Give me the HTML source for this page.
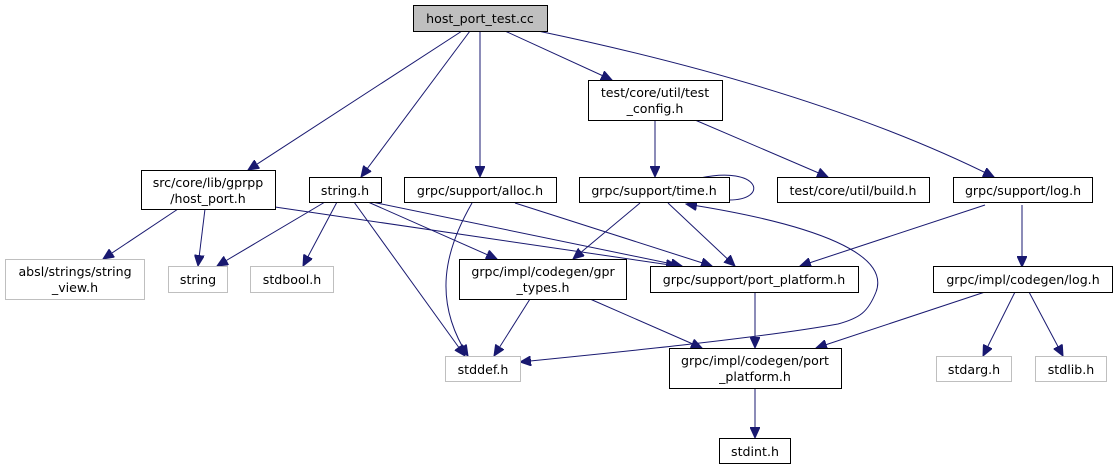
<!DOCTYPE html>
<html><head><meta charset="utf-8"><style>
html,body{margin:0;padding:0;background:#fff;}
svg{display:block;}
text{font-family:"DejaVu Sans","Liberation Sans",sans-serif;font-size:12.6px;fill:#000;text-anchor:middle;}
.b{fill:#fff;stroke:#000;stroke-width:1;}
.g{fill:#fff;stroke:#bfbfbf;stroke-width:1;}
.e{fill:none;stroke:#191970;stroke-width:1;marker-end:url(#a);}
.n{fill:none;stroke:#191970;stroke-width:1;}
</style></head><body>
<svg width="1117" height="469" viewBox="0 0 1117 469" xmlns="http://www.w3.org/2000/svg">
<defs><marker id="a" markerUnits="userSpaceOnUse" markerWidth="12" markerHeight="10" refX="11" refY="5" orient="auto"><path d="M0,0 L11,5 L0,10 Z" fill="#191970" stroke="#191970"/></marker></defs>

<!-- edges -->
<path class="e" d="M462,31 L248,170"/>
<path class="e" d="M470,31 L361,177"/>
<path class="e" d="M480,31 L480,177"/>
<path class="e" d="M505,31 L612,80"/>
<path class="e" d="M538,31 Q820,90 994,177"/>
<path class="e" d="M655,120 L655,177"/>
<path class="e" d="M695,120 L828,177"/>
<path class="e" d="M178,209 L103,259"/>
<path class="e" d="M205,209 L198,266"/>
<path class="e" d="M275,207 L677,266"/>
<path class="e" d="M325,202 L217,266"/>
<path class="e" d="M337,202 L303,266"/>
<path class="e" d="M354,202 L465,356"/>
<path class="e" d="M368,202 L497,259"/>
<path class="e" d="M372,202 L682,266"/>
<path class="e" d="M472,203 C445,250 432,300 468,356"/>
<path class="e" d="M515,203 L712,266"/>
<path class="e" d="M640,203 L573,259"/>
<path class="e" d="M668,203 L735,266"/>
<path class="n" d="M700,178 C760,165 770,200 729,200"/>
<path class="e" d="M876,292 C890,255 820,225 686,204"/>
<path class="e" d="M876,292 C868,312 860,318 838,324 C760,338 620,352 520,362"/>
<path class="e" d="M985,205 L800,266"/>
<path class="e" d="M1022,205 L1022,267"/>
<path class="e" d="M530,299 L494,356"/>
<path class="e" d="M590,299 L702,348"/>
<path class="e" d="M755,292 L755,348"/>
<path class="e" d="M985,292 L816,348"/>
<path class="e" d="M1015,292 L983,356"/>
<path class="e" d="M1029,292 L1063,356"/>
<path class="e" d="M755,389 L755,438"/>

<!-- nodes -->
<rect x="413.5" y="5.5" width="134" height="26" fill="#bfbfbf" stroke="#000"/>
<text x="480" y="23">host_port_test.cc</text>

<rect class="b" x="588.5" y="80.5" width="134" height="40"/>
<text x="655" y="97">test/core/util/test</text><text x="655" y="113">_config.h</text>

<rect class="b" x="141.5" y="170.5" width="134" height="39"/>
<text x="208" y="187">src/core/lib/gprpp</text><text x="208" y="203">/host_port.h</text>

<rect class="b" x="309.5" y="177.5" width="72" height="25"/>
<text x="345" y="195">string.h</text>

<rect class="b" x="404.5" y="177.5" width="152" height="25"/>
<text x="480" y="195">grpc/support/alloc.h</text>

<rect class="b" x="579.5" y="177.5" width="150" height="25"/>
<text x="654" y="195">grpc/support/time.h</text>

<rect class="b" x="777.5" y="177.5" width="152" height="25"/>
<text x="853" y="195">test/core/util/build.h</text>

<rect class="b" x="953.5" y="177.5" width="139" height="25"/>
<text x="1023" y="195">grpc/support/log.h</text>

<rect class="g" x="5.5" y="259.5" width="139" height="40"/>
<text x="75" y="276">absl/strings/string</text><text x="75" y="292">_view.h</text>

<rect class="g" x="168.5" y="266.5" width="59" height="26"/>
<text x="198" y="284">string</text>

<rect class="g" x="250.5" y="266.5" width="83" height="26"/>
<text x="292" y="284">stdbool.h</text>

<rect class="b" x="459.5" y="259.5" width="167" height="40"/>
<text x="543" y="276">grpc/impl/codegen/gpr</text><text x="543" y="292">_types.h</text>

<rect class="b" x="650.5" y="266.5" width="208" height="26"/>
<text x="754" y="284">grpc/support/port_platform.h</text>

<rect class="b" x="933.5" y="266.5" width="179" height="26"/>
<text x="1023" y="284">grpc/impl/codegen/log.h</text>

<rect class="g" x="445.5" y="356.5" width="75" height="25"/>
<text x="483" y="374">stddef.h</text>

<rect class="b" x="669.5" y="348.5" width="172" height="40"/>
<text x="755" y="365">grpc/impl/codegen/port</text><text x="755" y="381">_platform.h</text>

<rect class="g" x="936.5" y="356.5" width="75" height="25"/>
<text x="974" y="374">stdarg.h</text>

<rect class="g" x="1035.5" y="356.5" width="71" height="25"/>
<text x="1071" y="374">stdlib.h</text>

<rect class="b" x="719.5" y="438.5" width="71" height="25"/>
<text x="755" y="456">stdint.h</text>
</svg>
</body></html>
